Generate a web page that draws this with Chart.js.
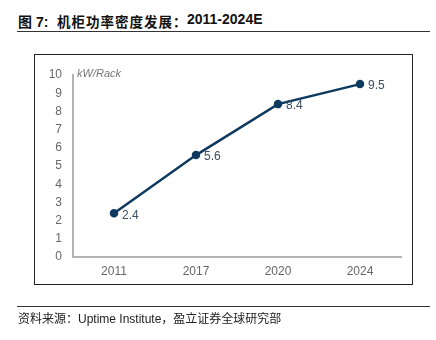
<!DOCTYPE html>
<html>
<head>
<meta charset="utf-8">
<script src="https://cdn.jsdelivr.net/npm/chart.js@4.4.0/dist/chart.umd.min.js"></script>
<style>
  html, body { margin: 0; padding: 0; background: #fff; }
  #wrap { position: relative; width: 436px; height: 340px; overflow: hidden; }
  #chart { position: absolute; left: 0; top: 0; }
  .title {
    position: absolute; top: 11px; white-space: nowrap;
    font: bold 14px "Liberation Sans", "Noto Sans CJK SC", sans-serif; color: #111;
  }
  .title.cjk { font-size: 13.5px; letter-spacing: 1px; }
  .rule { position: absolute; left: 17px; width: 413px; height: 1px; background: #333; }
  .box { position: absolute; left: 34px; top: 54px; width: 377px; height: 229px; border: 1px solid #222; }
  .unit {
    position: absolute; left: 77px; top: 67px;
    font: italic 11px "Liberation Sans", sans-serif; color: #777;
  }
  .source {
    position: absolute; left: 18px; top: 309px; white-space: nowrap;
    font: 12px "Liberation Sans", "Noto Sans CJK SC", sans-serif; color: #222;
  }
</style>
</head>
<body>
<div id="wrap">
  <span class="title" style="left:18px">图 7:</span>
  <span class="title cjk" style="left:57px">机柜功率密度发展：</span>
  <span class="title" style="left:187px">2011-2024E</span>
  <div class="rule" style="top:31px"></div>
  <div class="box"></div>
  <canvas id="chart" width="436" height="340"></canvas>
  <div class="unit">kW/Rack</div>
  <div class="rule" style="top:306px"></div>
  <div class="source">资料来源：Uptime Institute，盈立证券全球研究部</div>
</div>
<script>
// 数据
const years = ['2011', '2017', '2020', '2024'];
const kwPerRack = [2.4, 5.6, 8.4, 9.5];
const yTicks = [0, 1, 2, 3, 4, 5, 6, 7, 8, 9, 10];

const lineColor = '#0f3a5f';
const axisColor = '#b3b3b3';
const tickColor = '#666';

// 在点的右侧写数值
const valueLabels = {
    id: 'valueLabels',
    afterDatasetsDraw(chart) {
        const ctx = chart.ctx;
        const meta = chart.getDatasetMeta(0);
        ctx.save();
        ctx.font = '12px "Liberation Sans", sans-serif';
        ctx.fillStyle = '#3b4d63';
        ctx.textAlign = 'left';
        ctx.textBaseline = 'middle';
        meta.data.forEach((pt, i) => {
            ctx.fillText(kwPerRack[i].toFixed(1), pt.x + 8, pt.y + 2);
        });
        ctx.restore();
    }
};

new Chart(document.getElementById('chart'), {
    type: 'line',
    data: {
        labels: years,
        datasets: [{
            data: kwPerRack,
            borderColor: lineColor,
            backgroundColor: lineColor,
            borderWidth: 2.5,
            pointRadius: 3,
            pointHoverRadius: 3,
            tension: 0,
            fill: false
        }]
    },
    options: {
        responsive: false,
        animation: false,
        events: [],
        layout: { padding: { top: 75, right: 35, left: 0, bottom: 0 } },
        plugins: {
            legend: { display: false },
            tooltip: { enabled: false }
        },
        scales: {
            x: {
                offset: true,
                grid: { display: true, color: 'rgba(0,0,0,0)', drawTicks: false },
                border: { display: true, color: axisColor, width: 2 },
                ticks: {
                    color: tickColor,
                    padding: 7,
                    font: { family: 'Liberation Sans', size: 12 }
                },
                afterFit: s => { s.height = 83; }
            },
            y: {
                min: 0,
                max: 10,
                grid: { display: true, color: 'rgba(0,0,0,0)', drawTicks: false },
                border: { display: true, color: axisColor, width: 2 },
                afterBuildTicks: s => { s.ticks = yTicks.map(v => ({ value: v })); },
                ticks: {
                    color: tickColor,
                    padding: 11,
                    font: { family: 'Liberation Sans', size: 12 }
                },
                afterFit: s => { s.width = 73; }
            }
        }
    },
    plugins: [valueLabels]
});
</script>
</body>
</html>
